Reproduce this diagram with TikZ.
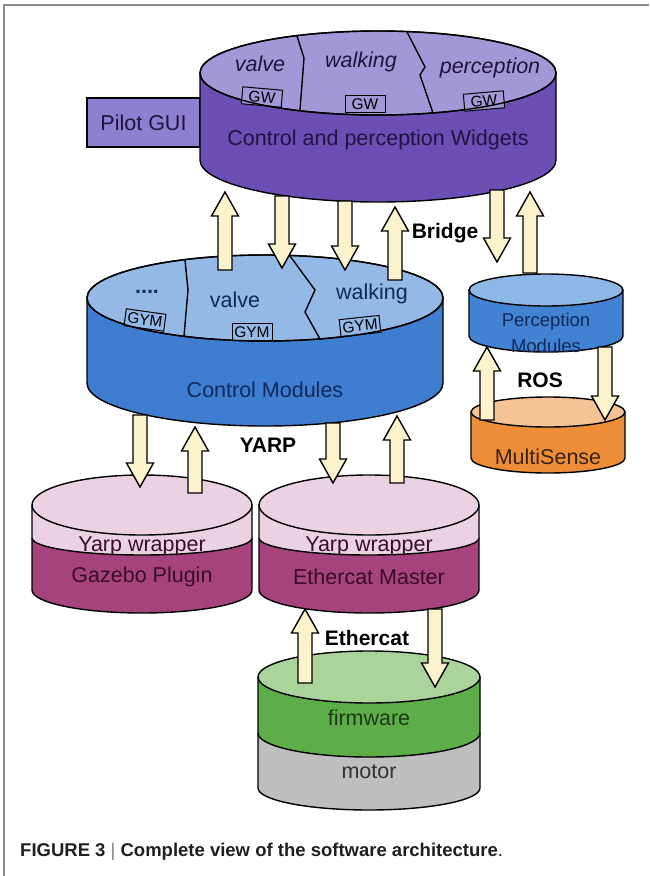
\documentclass[tikz,border=0pt]{standalone}
\usepackage{fontspec}
\setmainfont{Liberation Sans}
\usetikzlibrary{calc}

\definecolor{wtop}{HTML}{A497D8}
\definecolor{wside}{HTML}{6B4FB5}
\definecolor{pilot}{HTML}{8F7FD1}
\definecolor{ctop}{HTML}{94B9E6}
\definecolor{cside}{HTML}{3E7DD0}
\definecolor{ptop}{HTML}{8DB7E6}
\definecolor{pside}{HTML}{4282D2}
\definecolor{mtop}{HTML}{F5C396}
\definecolor{mside}{HTML}{EE8D38}
\definecolor{ytop}{HTML}{EBD2E2}
\definecolor{yside}{HTML}{A6437C}
\definecolor{ftop}{HTML}{AAD49C}
\definecolor{fside}{HTML}{5DAE48}
\definecolor{motorc}{HTML}{BEBEBE}
\definecolor{cream}{HTML}{FCF2CC}
\definecolor{framegray}{HTML}{8A8A8A}
\definecolor{captxt}{HTML}{231F20}
\definecolor{wtxt}{HTML}{1E1440}
\definecolor{ctxt}{HTML}{10295A}
\definecolor{mtxt}{HTML}{3A2212}
\definecolor{ytxt}{HTML}{3A0C26}
\definecolor{ftxt}{HTML}{1C3A12}

\tikzset{
  outl/.style={draw=black, line width=1.4pt},
  flow/.style={draw=black, line width=1.4pt, fill=cream, line join=miter},
  lbl/.style={font=\fontsize{21.5}{24}\selectfont, inner sep=0pt},
  ilbl/.style={font=\fontsize{21.5}{24}\selectfont\itshape, inner sep=0pt},
  slbl/.style={font=\fontsize{18.5}{20}\selectfont, inner sep=0pt},
  blbl/.style={font=\fontsize{21}{24}\selectfont\bfseries, inner sep=0pt},
  tagbox/.style={draw=black, line width=1pt, font=\fontsize{15.5}{17}\selectfont,
    minimum width=40pt, minimum height=17pt, inner sep=0pt},
}

% drum side: centre x, top-ellipse y, x radius, side bottom y, bottom y radius, fill
\newcommand{\drumside}[6]{%
  \fill[#6] ({#1-#3},#2) -- ({#1-#3},#4)
    arc[start angle=180,end angle=360,x radius=#3pt,y radius=#5pt] -- ({#1+#3},#2) -- cycle;}
% band boundary line across the front of a drum
\newcommand{\drumline}[5]{%
  \draw[outl] ({#1-#3},#4) arc[start angle=180,end angle=360,x radius=#3pt,y radius=#5pt];}
% outline of the drum sides and bottom
\newcommand{\drumedge}[5]{%
  \draw[outl] ({#1-#3},#2) -- ({#1-#3},#4)
    arc[start angle=180,end angle=360,x radius=#3pt,y radius=#5pt] -- ({#1+#3},#2);}
% top lid of a drum
\newcommand{\drumtop}[5]{\draw[outl, fill=#5] (#1,#2) ellipse[x radius=#3pt, y radius=#4pt];}

% block arrow between two named points on a vertical line
\newcommand{\flowarrow}[2]{%
  \draw[flow] let \p1=(#1), \p2=(#2), \n1={sign(\y2-\y1)} in
    (\x1-7pt,\y1) -- (\x1-7pt,\y2-\n1*24pt) -- (\x1-13.5pt,\y2-\n1*24pt) -- (\x2,\y2)
    -- (\x1+13.5pt,\y2-\n1*24pt) -- (\x1+7pt,\y2-\n1*24pt) -- (\x1+7pt,\y1) -- cycle;}

\begin{document}
\begin{tikzpicture}[x=1pt,y=-1pt]
\useasboundingbox (0,0) rectangle (649,876);
\fill[white] (0,0) rectangle (649,876);
\draw[framegray, line width=1.5pt] (4,876) -- (4,5) -- (649,5);

% ---------- pilot GUI tab ----------
\node[draw=black, line width=1.3pt, fill=pilot, minimum width=113pt, minimum height=49pt,
      inner sep=0pt, lbl, text=wtxt] (pilot) at (143.5,122.5) {Pilot GUI};

% ---------- widgets drum ----------
\drumside{378}{73}{178}{160}{42}{wside}
\drumedge{378}{73}{178}{160}{42}
\drumtop{378}{73}{178}{42}{wtop}
\node[tagbox, fill=wtop, rotate=-5] (gw1) at (262,97) {GW};
\node[tagbox, fill=wtop] (gw2) at (365,104) {GW};
\node[tagbox, fill=wtop, rotate=5] (gw3) at (484,101) {GW};
\draw[outl] (378,73) ellipse[x radius=178pt, y radius=42pt];
\draw[outl] (297,36) -- (304,58) -- (300,110);
\draw[outl] (407,32) -- (425,67) -- (420,75) -- (433,113);
\node[ilbl, text=wtxt] (wvalve) at (260,64) {valve};
\node[ilbl, text=wtxt] (wwalk) at (361,62) {walking};
\node[ilbl, text=wtxt] (wperc) at (490,68) {perception};
\node[lbl, text=wtxt] (widgets) at (378,140) {Control and perception Widgets};

% ---------- control modules drum ----------
\drumside{265}{298}{178}{383}{43}{cside}
\drumedge{265}{298}{178}{383}{43}
\drumtop{265}{298}{178}{43}{ctop}
\node[tagbox, fill=ctop, rotate=-8] (gym1) at (145,320) {GYM};
\node[tagbox, fill=ctop] (gym2) at (252,332) {GYM};
\node[tagbox, fill=ctop, rotate=6] (gym3) at (360,326) {GYM};
\draw[outl] (265,298) ellipse[x radius=178pt, y radius=43pt];
\draw[outl] (185,260) -- (188,290) -- (184,336);
\draw[outl] (290,256) -- (315,290) -- (305,312) -- (320,339);
\node[lbl, font=\fontsize{21.5}{24}\selectfont\bfseries, text=ctxt] (cdots) at (147,292) {....};
\node[lbl, text=ctxt] (cvalve) at (235,300) {valve};
\node[lbl, text=ctxt] (cwalk) at (372,294) {walking};
\node[lbl, text=ctxt] (control) at (265,390) {Control Modules};

% ---------- perception modules drum ----------
\drumside{546}{290}{77}{336}{16}{pside}
\drumedge{546}{290}{77}{336}{16}
\drumtop{546}{290}{77}{16}{ptop}
\node[slbl, text=ctxt] (percmod) at (546,322) {Perception};
\node[slbl, text=ctxt] (percmod2) at (546,346) {Modules};

% ---------- MultiSense drum ----------
\drumside{548}{412}{77}{458}{15}{mside}
\drumedge{548}{412}{77}{458}{15}
\drumtop{548}{412}{77}{15}{mtop}
\node[lbl, text=mtxt] (multisense) at (548,457) {MultiSense};

% ---------- Gazebo drum ----------
\drumside{142}{505}{110}{590}{23}{yside}
\drumside{142}{505}{110}{538}{17}{ytop}
\drumline{142}{505}{110}{538}{17}
\drumedge{142}{505}{110}{590}{23}
\drumtop{142}{505}{110}{30}{ytop}
\node[lbl, text=ytxt] (yw1) at (142,546) {Yarp wrapper};
\node[lbl, text=ytxt] (gazebo) at (142,577) {Gazebo Plugin};

% ---------- Ethercat master drum ----------
\drumside{369}{505}{110}{590}{23}{yside}
\drumside{369}{505}{110}{538}{17}{ytop}
\drumline{369}{505}{110}{538}{17}
\drumedge{369}{505}{110}{590}{23}
\drumtop{369}{505}{110}{30}{ytop}
\node[lbl, text=ytxt] (yw2) at (369,546) {Yarp wrapper};
\node[lbl, text=ytxt] (ecmaster) at (369,577) {Ethercat Master};

% ---------- firmware / motor drum ----------
\drumside{369}{677}{111}{788}{22}{motorc}
\drumside{369}{677}{111}{733}{24}{fside}
\drumline{369}{677}{111}{733}{24}
\drumedge{369}{677}{111}{788}{22}
\drumtop{369}{677}{111}{26}{ftop}
\node[lbl, text=ftxt] (firmware) at (369,718) {firmware};
\node[lbl, text=black!80] (motor) at (369,772) {motor};

% ---------- arrow end points ----------
\coordinate (a1s) at (225,270); \coordinate (a1e) at (225,192);
\coordinate (a2s) at (282,196); \coordinate (a2e) at (282,268);
\coordinate (a3s) at (345,201); \coordinate (a3e) at (345,270);
\coordinate (a4s) at (395,280); \coordinate (a4e) at (395,207);
\coordinate (a5s) at (497,190); \coordinate (a5e) at (497,262);
\coordinate (a6s) at (530,273); \coordinate (a6e) at (530,192);
\coordinate (r1s) at (487,420); \coordinate (r1e) at (487,347);
\coordinate (r2s) at (605,347); \coordinate (r2e) at (605,420);
\coordinate (b1s) at (140,415); \coordinate (b1e) at (140,487);
\coordinate (b2s) at (195,493); \coordinate (b2e) at (195,427);
\coordinate (b3s) at (333,423); \coordinate (b3e) at (333,483);
\coordinate (b4s) at (397,483); \coordinate (b4e) at (397,416);
\coordinate (e1s) at (305,683); \coordinate (e1e) at (305,609);
\coordinate (e2s) at (435,609); \coordinate (e2e) at (435,687);

\foreach \a in {a1,a2,a3,a4,a5,a6,r1,r2,b1,b2,b3,b4,e1,e2}
  {\flowarrow{\a s}{\a e}}

% ---------- link labels ----------
\node[blbl] (bridge) at (445,233) {Bridge};
\node[blbl] (ros) at (540,380) {ROS};
\node[blbl] (yarp) at (268,445) {YARP};
\node[blbl] (ethercat) at (367,638) {Ethercat};

% ---------- caption ----------
\node[anchor=base west, inner sep=0pt, text=captxt, font=\fontsize{18.5}{22}\selectfont\bfseries]
  (caption) at (20,856) {FIGURE 3 {\mdseries\color{gray}|} Complete view of the software architecture{\mdseries.}};
\end{tikzpicture}
\end{document}
